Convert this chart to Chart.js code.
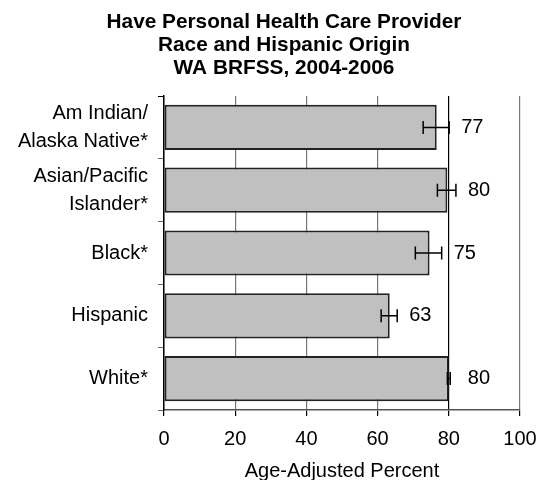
<!DOCTYPE html>
<html>
<head>
<meta charset="utf-8">
<script src="https://cdn.jsdelivr.net/npm/chart.js@4/dist/chart.umd.min.js"></script>
<style>
  html, body { margin: 0; padding: 0; background: #fff; }
</style>
</head>
<body>
<canvas id="chart" width="538" height="480"></canvas>
<script>
var titleLines = ['Have Personal Health Care Provider', 'Race and Hispanic Origin', 'WA BRFSS, 2004-2006'];
var groups = [['Am Indian/', 'Alaska Native*'], ['Asian/Pacific', 'Islander*'], 'Black*', 'Hispanic', 'White*'];
var percents = [76.6, 79.6, 74.6, 63.4, 80.0];
var ciLow = [72.8, 76.8, 70.6, 61.0, 79.6];
var ciHigh = [80.1, 82.0, 78.0, 65.5, 80.4];
var xTicks = [0, 20, 40, 60, 80, 100];

var FONT = '"Liberation Sans", Arial, sans-serif';

// title is drawn by hand: in the original it sits left of the plot centre
var titlePlugin = {
    id: 'titleText',
    afterDraw: function(chart){
        var ctx = chart.ctx;
        ctx.save();
        ctx.fillStyle = '#000';
        ctx.font = 'bold 20.8px ' + FONT;
        ctx.textAlign = 'center';
        ctx.textBaseline = 'middle';
        titleLines.forEach(function(t, i){ ctx.fillText(t, 284, 22 + i * 23); });
        ctx.restore();
    }
};

// error bars + value labels
var extras = {
    id: 'extras',
    afterDatasetsDraw: function(chart){
        var ctx = chart.ctx, x = chart.scales.x, y = chart.scales.y;
        ctx.save();
        ctx.strokeStyle = '#000';
        ctx.lineWidth = 1.5;
        for(var i = 0; i < percents.length; i++){
            var yc = y.getPixelForValue(i);
            var x1 = x.getPixelForValue(ciLow[i]);
            var x2 = x.getPixelForValue(ciHigh[i]);
            ctx.beginPath();
            ctx.moveTo(x1, yc); ctx.lineTo(x2, yc);
            ctx.moveTo(x1, yc - 6.5); ctx.lineTo(x1, yc + 6.5);
            ctx.moveTo(x2, yc - 6.5); ctx.lineTo(x2, yc + 6.5);
            ctx.stroke();
            ctx.fillStyle = '#000';
            ctx.font = '20px ' + FONT;
            ctx.textAlign = 'left';
            ctx.textBaseline = 'middle';
            var lx = Math.max(x2 + 12, x.getPixelForValue(percents[i]) + 19);
            ctx.fillText(String(Math.round(percents[i])), lx, yc);
        }
        ctx.restore();
    }
};

new Chart(document.getElementById('chart'), {
    type: 'bar',
    data: {
        labels: groups,
        datasets: [{
            data: percents,
            backgroundColor: '#c0c0c0',
            borderColor: '#222',
            borderWidth: 2,
            borderSkipped: false,
            categoryPercentage: 0.72,
            barPercentage: 1
        }]
    },
    options: {
        indexAxis: 'y',
        responsive: false,
        animation: false,
        layout: { padding: { left: 16, right: 18, top: 96, bottom: 0 } },
        plugins: {
            legend: { display: false },
            tooltip: { enabled: false },
            title: { display: false }
        },
        scales: {
            x: {
                min: 0, max: 100,
                afterBuildTicks: function(s){ s.ticks = xTicks.map(function(v){ return { value: v }; }); },
                afterFit: function(s){ s.height = 70; s.paddingRight = 0; s.paddingLeft = 0; },
                grid: {
                    color: function(c){ return c.tick && c.tick.value === 80 ? '#000' : '#777'; },
                    lineWidth: 1.2,
                    tickColor: '#000',
                    tickLength: 6
                },
                border: { color: '#555', width: 1.5 },
                ticks: { color: '#000', padding: 11, font: { family: FONT, size: 20, lineHeight: 1.2 } },
                title: {
                    display: true,
                    text: 'Age-Adjusted Percent',
                    color: '#000',
                    font: { family: FONT, size: 20, lineHeight: 0.9 },
                    padding: { top: 11, bottom: 0 }
                }
            },
            y: {
                afterFit: function(s){ s.width = 148; },
                grid: {
                    drawOnChartArea: false,
                    offset: true,
                    color: function(c){ return c.index === 0 ? '#000' : '#666'; },
                    tickLength: 6
                },
                border: { color: '#000', width: 1.5 },
                ticks: { color: '#000', padding: 10, font: { family: FONT, size: 20, lineHeight: 1.38 } }
            }
        }
    },
    plugins: [extras, titlePlugin]
});
</script>
</body>
</html>
